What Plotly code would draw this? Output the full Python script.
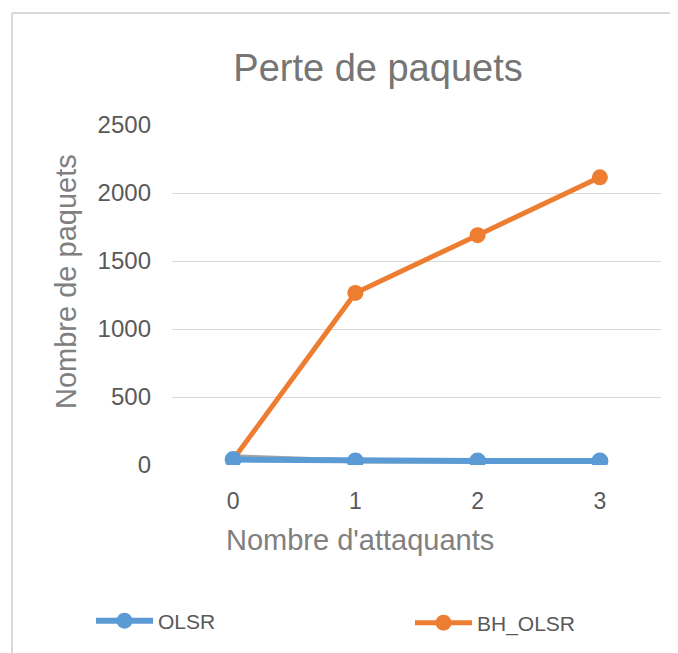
import plotly.graph_objects as go

attackers = [0, 1, 2, 3]
olsr = [40, 30, 30, 30]
bh_olsr = [40, 1265, 1690, 2115]
hidden_series = [60, 30, 30, 30]
y_ticks = [0, 500, 1000, 1500, 2000, 2500]

# page body adds an 8px offset; work in reference pixels and shift
O = 8
W, H = 678 - O, 653 - O
L, R, T, B = 172 - O, 661 - O, 125 - O, 465 - O
pw, ph = R - L, B - T

def px(x):
    return (x - O - L) / pw

def py(y):
    return (B - (y - O)) / ph

fig = go.Figure()
fig.add_trace(go.Scatter(x=attackers, y=hidden_series, mode="lines",
                         line=dict(color="#a5a5a5", width=5), showlegend=False,
                         hoverinfo="skip"))
fig.add_trace(go.Scatter(x=attackers, y=bh_olsr, mode="lines+markers", name="BH_OLSR",
                         line=dict(color="#ed7d31", width=5),
                         marker=dict(size=16, color="#ed7d31"), legend="legend2"))
fig.add_trace(go.Scatter(x=attackers, y=olsr, mode="lines+markers", name="OLSR",
                         line=dict(color="#5b9bd5", width=6),
                         marker=dict(size=17, color="#5b9bd5"), legend="legend"))

legend_font = dict(size=21, color="#595959")
title_font = dict(size=29, color="#808080", family="Liberation Sans, Arial, sans-serif")
fig.update_layout(
    width=W, height=H,
    margin=dict(l=L, r=W - R, t=T, b=H - B, autoexpand=False),
    paper_bgcolor="white", plot_bgcolor="white",
    font=dict(family="Liberation Sans, Arial, sans-serif", color="#595959"),
    title=dict(text="Perte de paquets", x=(378 - O) / W, xanchor="center",
               y=1 - (68 - O) / H, yanchor="middle",
               font=dict(size=38, color="#757575")),
    xaxis=dict(range=[-0.5, 3.5], tickvals=attackers, ticktext=[str(a) for a in attackers],
               showgrid=False, zeroline=False, showline=False, ticks="",
               ticklabelstandoff=20,
               tickfont=dict(size=23, color="#595959")),
    yaxis=dict(range=[0, 2500], tickvals=y_ticks, showgrid=True, gridcolor="#d9d9d9",
               gridwidth=1, zeroline=False, showline=False, ticks="",
               ticklabelstandoff=20,
               tickfont=dict(size=24, color="#595959")),
    legend=dict(orientation="h", x=px(91), xanchor="left", y=py(621), yanchor="middle",
                itemwidth=57, font=legend_font, bgcolor="rgba(0,0,0,0)"),
    legend2=dict(orientation="h", x=px(410), xanchor="left", y=py(623), yanchor="middle",
                 itemwidth=57, font=legend_font, bgcolor="rgba(0,0,0,0)"),
    showlegend=True,
    annotations=[
        dict(text="Nombre d'attaquants", xref="paper", yref="paper", x=px(360), y=py(540),
             xanchor="center", yanchor="middle", showarrow=False, font=title_font),
        dict(text="Nombre de paquets", xref="paper", yref="paper", x=px(66), y=py(282),
             xanchor="center", yanchor="middle", textangle=-90, showarrow=False,
             font=title_font),
    ],
    shapes=[
        dict(type="line", xref="paper", yref="paper", x0=px(12), x1=px(690),
             y0=py(13), y1=py(13), line=dict(color="#d9d9d9", width=2)),
        dict(type="line", xref="paper", yref="paper", x0=px(12), x1=px(12),
             y0=py(13), y1=py(670), line=dict(color="#d9d9d9", width=2)),
    ],
)

fig.write_html("out.html")
